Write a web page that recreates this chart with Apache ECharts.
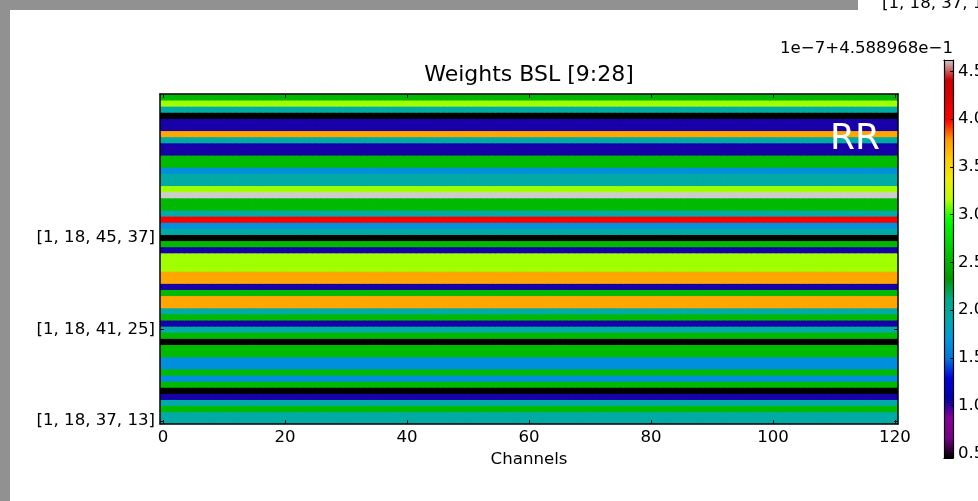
<!DOCTYPE html>
<html><head><meta charset="utf-8">
<script src="https://cdn.jsdelivr.net/npm/echarts@6/dist/echarts.min.js"></script>
<style>html,body{margin:0;padding:0;background:#fff;overflow:hidden}#c{width:978px;height:501px}</style>
</head><body><div id="c"></div>
<script>
// ---- data ----
const channels = Array.from({length: 121}, (_, i) => i);           // x categories 0..120
const rowIndex = Array.from({length: 54}, (_, i) => i);            // y categories (rows, bottom to top)
// per-row value (units of 1e-7 above 4.588968e-1), bottom row first; each row is constant over all channels
const rowValues = [1.94,1.94,2.53,1.94,1.04,0.45,2.53,1.64,2.53,1.64,
                   1.64,2.53,2.53,0.45,2.53,1.94,1.04,2.53,1.94,3.73,
                   3.73,2.53,1.04,3.73,3.73,3.13,3.13,3.13,1.04,2.53,
                   0.45,1.94,1.64,4.02,1.94,2.53,2.53,4.62,3.13,1.94,
                   1.94,1.64,2.53,2.53,1.04,1.04,1.94,3.73,1.04,1.04,
                   0.45,1.94,3.13,2.53];
const xTickValues = [0, 20, 40, 60, 80, 100, 120];
const yTickRows = [0, 15, 30];
const yTickLabels = ['[1, 18, 37, 13]', '[1, 18, 41, 25]', '[1, 18, 45, 37]'];
const cbMin = 0.45, cbMax = 4.62;
const cbTicks = [0.5, 1.0, 1.5, 2.0, 2.5, 3.0, 3.5, 4.0, 4.5];
const titleText = 'Weights BSL [9:28]';
const offsetText = '1e\u22127+4.588968e\u22121';
const xName = 'Channels';
const nipySpectral = ['#000000','#770088','#880099','#0000aa','#0000dd','#0077dd','#0099dd','#00aaaa','#00aa88','#009900',
  '#00bb00','#00dd00','#00ff00','#bbff00','#eeee00','#ffcc00','#ff9900','#ff0000','#dd0000','#cc0000','#cccccc'];

const cells = [];
for (let r = 0; r < rowValues.length; r++) {
  for (let c = 0; c < channels.length; c++) cells.push([c, r, rowValues[r]]);
}

const FONT = 'DejaVu Sans';
const FS = 16.6;
const lineSt = {color: '#000', width: 1.5};
const xTickFn = (i) => xTickValues.includes(i);
const yTickFn = (i) => yTickRows.includes(i);
const nStops = nipySpectral.length - 1;
const cbGradient = {type: 'linear', x: 0, y: 0, x2: 0, y2: 1,
  colorStops: nipySpectral.map((c, i) => ({offset: i / nStops, color: nipySpectral[nStops - i]}))};

const chart = echarts.init(document.getElementById('c'), null, {renderer: 'canvas'});
chart.setOption({
  animation: false,
  backgroundColor: '#ffffff',
  grid: [
    {left: 160, top: 94, width: 738, height: 330, show: false, containLabel: false, outerBoundsMode: 'none'},
    {left: 944, top: 60, width: 9, height: 398, show: false, containLabel: false, outerBoundsMode: 'none'}
  ],
  xAxis: [
    {gridIndex: 0, type: 'category', data: channels, position: 'bottom', z: 10,
     axisLine: {show: true, lineStyle: lineSt},
     axisTick: {show: true, inside: true, length: 4, alignWithLabel: true, interval: xTickFn, lineStyle: {color: '#000'}},
     axisLabel: {interval: xTickFn, color: '#000', fontFamily: FONT, fontSize: FS, margin: 5},
     splitLine: {show: false},
     name: xName, nameLocation: 'middle', nameGap: 20,
     nameTextStyle: {color: '#000', fontFamily: FONT, fontSize: FS}},
    {gridIndex: 0, type: 'category', data: channels, position: 'top', z: 10,
     axisLine: {show: true, lineStyle: lineSt},
     axisTick: {show: true, inside: true, length: 4, alignWithLabel: true, interval: xTickFn, lineStyle: {color: '#000'}},
     axisLabel: {show: false}, splitLine: {show: false}},
    {gridIndex: 1, type: 'category', data: ['cb'], position: 'bottom', z: 10,
     axisLine: {show: true, onZero: false, lineStyle: {color: '#000', width: 1.2}},
     axisTick: {show: false}, axisLabel: {show: false}, splitLine: {show: false}},
    {gridIndex: 1, type: 'category', data: ['cb'], position: 'top', z: 10,
     axisLine: {show: true, onZero: false, lineStyle: {color: '#000', width: 1.2}},
     axisTick: {show: false}, axisLabel: {show: false}, splitLine: {show: false}}
  ],
  yAxis: [
    {gridIndex: 0, type: 'category', data: rowIndex, position: 'left', z: 10,
     axisLine: {show: true, lineStyle: lineSt},
     axisTick: {show: true, inside: true, length: 4, alignWithLabel: true, interval: yTickFn, lineStyle: {color: '#000'}},
     axisLabel: {interval: yTickFn, color: '#000', fontFamily: FONT, fontSize: FS, margin: 5,
       formatter: (v) => { const k = yTickRows.indexOf(Number(v)); return k >= 0 ? yTickLabels[k] : ''; }},
     splitLine: {show: false}},
    {gridIndex: 0, type: 'category', data: rowIndex, position: 'right', z: 10,
     axisLine: {show: true, lineStyle: lineSt},
     axisTick: {show: true, inside: true, length: 4, alignWithLabel: true, interval: yTickFn, lineStyle: {color: '#000'}},
     axisLabel: {show: false}, splitLine: {show: false}},
    {gridIndex: 1, type: 'value', min: cbMin, max: cbMax, position: 'left', z: 10,
     axisLine: {show: true, onZero: false, lineStyle: {color: '#000', width: 1.2}},
     axisTick: {show: false}, axisLabel: {show: false}, splitLine: {show: false}},
    {gridIndex: 1, type: 'value', min: cbMin, max: cbMax, position: 'right', z: 10,
     axisLine: {show: true, onZero: false, lineStyle: {color: '#000', width: 1.2}},
     axisTick: {show: true, inside: true, length: 3, customValues: cbTicks, lineStyle: {color: '#000'}},
     axisLabel: {show: true, customValues: cbTicks, color: '#000', fontFamily: FONT, fontSize: FS, margin: 5,
       formatter: (v) => Number(v).toFixed(1)},
     splitLine: {show: false}}
  ],
  visualMap: {
    type: 'continuous', show: false, min: cbMin, max: cbMax, seriesIndex: 0, dimension: 2,
    inRange: {color: nipySpectral}
  },
  series: [
    {
      type: 'custom', xAxisIndex: 0, yAxisIndex: 0, data: cells, progressive: 0, clip: true,
      encode: {x: 0, y: 1},
      renderItem: (params, api) => {
        const p = api.coord([api.value(0), api.value(1)]);
        const s = api.size([1, 1]);
        return {type: 'rect',
          shape: {x: p[0] - s[0] / 2 - 0.4, y: p[1] - s[1] / 2 - 0.4, width: s[0] + 0.8, height: s[1] + 0.8},
          style: {fill: api.visual('color')}};
      }
    },
    {
      // colour bar: one bar from cbMin up to cbMax, filled with the colormap gradient
      type: 'bar', xAxisIndex: 2, yAxisIndex: 2, barWidth: '100%', stack: 'cb',
      data: [cbMin], itemStyle: {color: 'transparent'}, silent: true
    },
    {
      type: 'bar', xAxisIndex: 2, yAxisIndex: 2, barWidth: '100%', stack: 'cb',
      data: [cbMax - cbMin], itemStyle: {color: cbGradient}, silent: true
    }
  ],
  graphic: [
    {type: 'rect', left: 0, top: 0, shape: {width: 10, height: 501}, style: {fill: '#919191'}, silent: true},
    {type: 'rect', left: 0, top: 0, shape: {width: 858, height: 10}, style: {fill: '#919191'}, silent: true},
    {type: 'text', x: 882, y: 12, style: {text: '[1, 18, 37, 13]', fill: '#000', font: FS + 'px "' + FONT + '"', textAlign: 'left', textVerticalAlign: 'bottom'}, silent: true},
    {type: 'text', x: 529, y: 75, style: {text: titleText, fill: '#000', font: '22px "' + FONT + '"', textAlign: 'center', textVerticalAlign: 'middle'}, silent: true},
    {type: 'text', x: 953, y: 49, style: {text: offsetText, fill: '#000', font: FS + 'px "' + FONT + '"', textAlign: 'right', textVerticalAlign: 'middle'}, silent: true},
    {type: 'text', x: 855, y: 140, z: 20, style: {text: 'RR', fill: '#ffffff', font: '36px "' + FONT + '"', textAlign: 'center', textVerticalAlign: 'middle'}, silent: true}
  ]
});
</script></body></html>
